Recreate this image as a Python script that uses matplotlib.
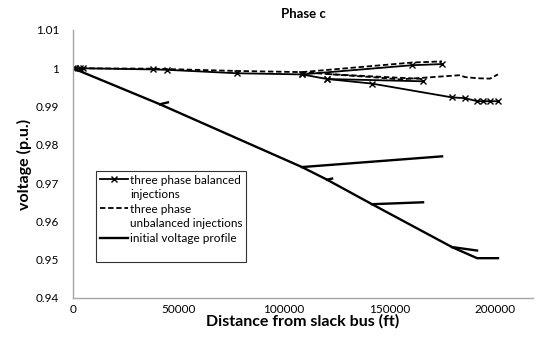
import numpy as np
import matplotlib
matplotlib.use('Agg')
import matplotlib.pyplot as plt
from matplotlib.lines import Line2D

plt.rcParams['font.family'] = ['Lato', 'DejaVu Sans']

# three phase balanced injections (x markers)
bal_main_x = [0, 950, 3300, 4700, 37900, 44500, 77700, 108500, 120400, 141700,
              179600, 185800, 191500, 194300, 197600, 201400]
bal_main_y = [1.0, 1.0, 1.0, 1.0, 0.9997, 0.9996, 0.9987, 0.9984, 0.9972, 0.9960,
              0.9924, 0.9922, 0.9914, 0.9914, 0.9914, 0.9914]
bal_br1_x = [108500, 160700, 174900]
bal_br1_y = [0.9984, 1.0008, 1.0011]
bal_br2_x = [120400, 165900]
bal_br2_y = [0.9972, 0.9966]

# three phase unbalanced injections (dashed)
unb_main_x = [0, 37900, 77700, 108500, 120400, 141700, 155000, 183400, 185800,
              191500, 197600, 201400]
unb_main_y = [1.0, 0.9999, 0.9993, 0.9990, 0.9985, 0.9977, 0.9971, 0.9982, 0.9977,
              0.9974, 0.9973, 0.9984]
unb_br1_x = [108500, 160700, 174900]
unb_br1_y = [0.9990, 1.0015, 1.0018]
unb_br2_x = [120400, 165900]
unb_br2_y = [0.9985, 0.9972]

# initial voltage profile
init_main_x = [0, 41200, 108500, 120400, 141700, 179600, 191500, 201400]
init_main_y = [1.0, 0.9906, 0.9742, 0.9709, 0.9645, 0.9533, 0.9504, 0.9504]
init_branches = [
    ([41200, 45000], [0.9906, 0.9911]),
    ([108500, 174900], [0.9742, 0.9770]),
    ([120400, 122800], [0.9709, 0.9712]),
    ([141700, 165900], [0.9645, 0.9650]),
    ([179600, 191500], [0.9533, 0.9524]),
]

xticks = [0, 50000, 100000, 150000, 200000]
yticks = [0.94, 0.95, 0.96, 0.97, 0.98, 0.99, 1.0, 1.01]
ytick_labels = ['0.94', '0.95', '0.96', '0.97', '0.98', '0.99', '1', '1.01']

fig = plt.figure(figsize=(5.4, 3.47), dpi=100)
ax = fig.add_axes([73 / 540, 1 - 298 / 347, 460 / 540, 268 / 347])

bal_kw = dict(color='black', linewidth=1.3, marker='x', markersize=4.5, markeredgewidth=1.0)
unb_kw = dict(color='black', linewidth=1.3, linestyle=(0, (3, 1.5)))
init_kw = dict(color='black', linewidth=1.7)

ax.plot(unb_main_x, unb_main_y, **unb_kw)
ax.plot(unb_br1_x, unb_br1_y, **unb_kw)
ax.plot(unb_br2_x, unb_br2_y, **unb_kw)

ax.plot(bal_main_x, bal_main_y, **bal_kw)
ax.plot(bal_br1_x, bal_br1_y, **bal_kw)
ax.plot(bal_br2_x, bal_br2_y, **bal_kw)

ax.plot(init_main_x, init_main_y, **init_kw)
for bx, by in init_branches:
    ax.plot(bx, by, **init_kw)

ax.set_xlim(0, 218000)
ax.set_ylim(0.94, 1.01)
ax.set_xticks(xticks)
ax.set_xticklabels([str(t) for t in xticks])
ax.set_yticks(yticks)
ax.set_yticklabels(ytick_labels)
ax.tick_params(length=0, labelsize=8.5, colors='black')
ax.tick_params(axis='y', pad=10)
ax.tick_params(axis='x', pad=4)

for side in ['top', 'right']:
    ax.spines[side].set_visible(False)
for side in ['left', 'bottom']:
    ax.spines[side].set_color('#a6a6a6')
    ax.spines[side].set_linewidth(1.0)

ax.set_title('Phase c', fontsize=9.5, fontweight='bold', pad=9)
ax.set_xlabel('Distance from slack bus (ft)', fontsize=11.5, fontweight='bold', labelpad=0)
ax.set_ylabel('voltage (p.u.)', fontsize=11.5, fontweight='bold', labelpad=3)

blank = Line2D([], [], color='none')
handles = [Line2D([], [], **bal_kw), blank,
           Line2D([], [], **unb_kw), blank,
           Line2D([], [], **init_kw), blank]
labels = ['three phase balanced', 'injections', 'three phase',
          'unbalanced injections', 'initial voltage profile', '']
leg = ax.legend(handles, labels, loc='upper left', bbox_to_anchor=(0.05, 0.474),
                fontsize=8.5, frameon=True, fancybox=False, handlelength=2.4,
                handletextpad=0.2, labelspacing=0.3, borderpad=0.3,
                borderaxespad=0)
leg.get_frame().set_edgecolor('black')
leg.get_frame().set_linewidth(0.8)

fig.savefig('out.png', dpi=100)
